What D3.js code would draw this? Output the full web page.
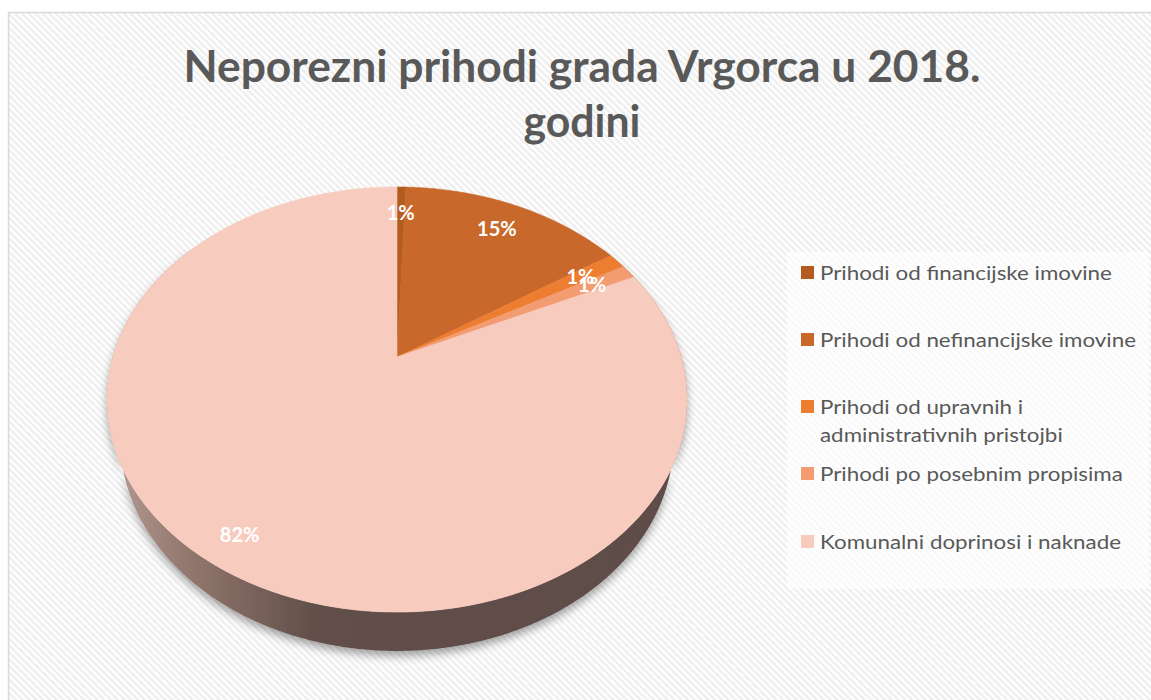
<!DOCTYPE html>
<html>
<head>
<meta charset="utf-8">
<script src="https://cdn.jsdelivr.net/npm/d3@7"></script>
<style>
  html, body { margin: 0; padding: 0; background: #ffffff; }
  svg { display: block; }
</style>
</head>
<body>
<svg id="chart" width="1151" height="700"></svg>
<script>
// ---- data ----
const titleLines = ["Neporezni prihodi grada Vrgorca u 2018.", "godini"];
const categories = [
  "Prihodi od financijske imovine",
  "Prihodi od nefinancijske imovine",
  "Prihodi od upravnih i administrativnih pristojbi",
  "Prihodi po posebnim propisima",
  "Komunalni doprinosi i naknade"
];
const legendLines = [
  ["Prihodi od financijske imovine"],
  ["Prihodi od nefinancijske imovine"],
  ["Prihodi od upravnih i", "administrativnih pristojbi"],
  ["Prihodi po posebnim propisima"],
  ["Komunalni doprinosi i naknade"]
];
const values = [0.6, 15.1, 1.2, 1.1, 82.0];
const valueLabels = ["1%", "15%", "1%", "1%", "82%"];
const colors = ["#b35c1f", "#c8682a", "#ed7d31", "#f39c72", "#f7cbbe"];

// ---- setup ----
const svg = d3.select("#chart");
const defs = svg.append("defs");

const hatch = defs.append("pattern")
  .attr("id", "hatch").attr("patternUnits", "userSpaceOnUse")
  .attr("width", 4.8).attr("height", 4.8)
  .attr("patternTransform", "rotate(-45)");
hatch.append("rect").attr("width", 4.8).attr("height", 4.8).attr("fill", "#ffffff");
hatch.append("rect").attr("width", 2.4).attr("height", 4.8).attr("fill", "#eeeeee");

const sideGrad = defs.append("linearGradient")
  .attr("id", "sideGrad").attr("gradientUnits", "userSpaceOnUse")
  .attr("x1", 110).attr("y1", 0).attr("x2", 690).attr("y2", 0);
[[0, "#b59c94"], [0.12, "#957a71"], [0.35, "#624f49"], [1, "#5e4c47"]].forEach(s =>
  sideGrad.append("stop").attr("offset", s[0]).attr("stop-color", s[1]));

const shadow = defs.append("filter").attr("id", "shadow")
  .attr("x", "-10%").attr("y", "-10%").attr("width", "120%").attr("height", "130%");
shadow.append("feGaussianBlur").attr("in", "SourceAlpha").attr("stdDeviation", 4).attr("result", "b");
shadow.append("feOffset").attr("in", "b").attr("dx", 0).attr("dy", 5).attr("result", "o");
shadow.append("feComponentTransfer").attr("in", "o").attr("result", "s")
  .append("feFuncA").attr("type", "linear").attr("slope", 0.35);
const merge = shadow.append("feMerge");
merge.append("feMergeNode").attr("in", "s");
merge.append("feMergeNode").attr("in", "SourceGraphic");

// chart area frame
svg.append("rect")
  .attr("x", 8.5).attr("y", 12.5).attr("width", 1170).attr("height", 700)
  .attr("fill", "url(#hatch)").attr("stroke", "#d9d9d9").attr("stroke-width", 1.5);

// ---- title ----
const titleG = svg.append("g");
const titleY = [82, 137];
const titleW = [797, 117];
titleLines.forEach((t, i) => {
  const el = titleG.append("text")
    .attr("x", 582).attr("y", titleY[i])
    .attr("text-anchor", "middle")
    .attr("font-family", "Lato, 'Open Sans', sans-serif")
    .attr("font-weight", "bold").attr("font-size", 43)
    .attr("fill", "#595959").text(t);
  el.attr("textLength", titleW[i]).attr("lengthAdjust", "spacingAndGlyphs");
});

// ---- 3D perspective pie ----
const cx = 397, cy = 357;
const F = 989, D = 3.48, sA = 0.718, cA = 0.696, T = 0.227;
function proj(theta, r, Y) {
  const X = r * Math.sin(theta), Z = -r * Math.cos(theta);
  const depth = D - Y * sA - Z * cA;
  const up = Y * cA - Z * sA;
  return [cx + F * X / depth, cy - F * up / depth];
}
function arcPts(a0, a1, r, Y) {
  const n = Math.max(2, Math.ceil(Math.abs(a1 - a0) / (Math.PI / 360)));
  return d3.range(n + 1).map(i => proj(a0 + (a1 - a0) * i / n, r, Y));
}

const pie = d3.pie().sort(null).value(d => d);
const arcs = pie(values);

// side band (front)
const a0 = Math.PI * 0.3, a1 = Math.PI * 1.7;
const band = arcPts(a0, a1, 1, 0).concat(arcPts(a1, a0, 1, -T));
svg.append("path")
  .attr("d", d3.line()(band) + "Z")
  .attr("fill", "url(#sideGrad)")
  .attr("filter", "url(#shadow)");

// top face slices
const topG = svg.append("g");
arcs.forEach((a, i) => {
  const pts = [proj(0, 0, 0)].concat(arcPts(a.startAngle, a.endAngle, 1, 0));
  topG.append("path")
    .attr("d", d3.line()(pts) + "Z")
    .attr("fill", colors[i])
    .attr("stroke", colors[i]).attr("stroke-width", 0.6);
});

// data labels
const labelRadius = [0.82, 0.82, 0.82, 0.83, 0.88];
arcs.forEach((a, i) => {
  const mid = (a.startAngle + a.endAngle) / 2;
  const p = proj(mid, labelRadius[i], 0);
  svg.append("text")
    .attr("x", p[0]).attr("y", p[1])
    .attr("dy", "0.35em")
    .attr("text-anchor", "middle")
    .attr("font-family", "Lato, 'Open Sans', sans-serif")
    .attr("font-weight", "bold").attr("font-size", 20)
    .attr("fill", "#ffffff").text(valueLabels[i]);
});

// ---- legend ----
svg.append("rect")
  .attr("x", 787).attr("y", 252).attr("width", 362).attr("height", 337)
  .attr("fill", "#ffffff").attr("fill-opacity", 0.65);
const legendTop = [266, 333, 400, 467, 535];
const legendG = svg.append("g");
const textEls = [];
legendLines.forEach((lines, i) => {
  legendG.append("rect")
    .attr("x", 801).attr("y", legendTop[i]).attr("width", 13).attr("height", 13)
    .attr("fill", colors[i]);
  lines.forEach((ln, j) => {
    const el = legendG.append("text")
      .attr("x", 820).attr("y", legendTop[i] + 14 + j * 28)
      .attr("font-family", "Lato, 'Open Sans', sans-serif")
      .attr("font-size", 19.5).attr("fill", "#595959").text(ln);
    textEls.push(el);
  });
});
// fit legend text width (Calibri-like compactness)
const natural = textEls.map(e => e.node().getComputedTextLength());
const k = 316 / d3.max(natural);
textEls.forEach((e, i) => e.attr("textLength", natural[i] * k).attr("lengthAdjust", "spacingAndGlyphs"));
</script>
</body>
</html>
